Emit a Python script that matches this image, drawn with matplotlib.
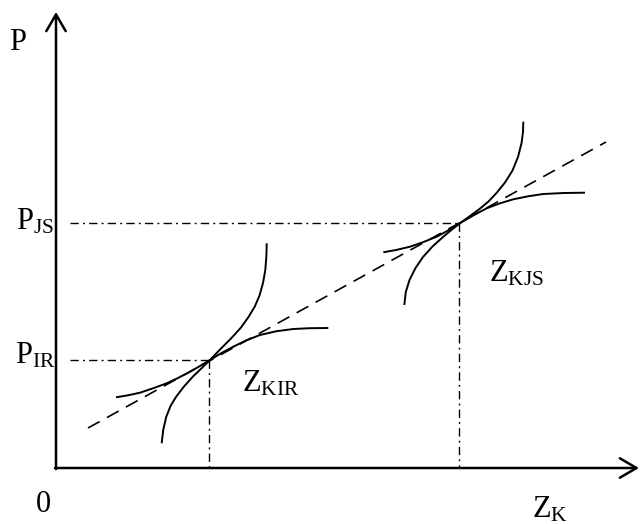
import matplotlib
matplotlib.use('Agg')
import matplotlib.pyplot as plt

plt.rcParams['font.family'] = ['Liberation Serif', 'DejaVu Serif']
plt.rcParams['mathtext.fontset'] = 'custom'
plt.rcParams['mathtext.rm'] = 'Liberation Serif'
plt.rcParams['mathtext.it'] = 'Liberation Serif:italic'

# 图上读出的点 (像素坐标, y 向下)
axis_origin = (56, 468)
y_axis_top = 12
x_axis_right = 639

# 两个切点
p_ir = (209, 360)
p_js = (459, 223)

# 虚线 (切线)
dash_x = [88, 606]
dash_y = [428, 142]

# 切点1附近的两条曲线
steep1_x = [161.7, 163.2, 166.2, 170.5, 176.3, 184, 192.8, 201.3, 210, 220.5, 231.5, 241, 248.5, 254.8, 259.5, 263, 265.3, 266.4, 266.7]
steep1_y = [443.3, 430, 417, 406, 396.5, 386.5, 376.7, 368.5, 360, 349, 338, 327.5, 317, 306.5, 295.5, 283, 270, 256, 243.3]
flat1_x = [116, 128, 140, 153, 166.7, 178, 190, 200, 210, 221.5, 233.3, 246, 260, 276, 293.3, 310, 328.3]
flat1_y = [397.3, 395.3, 392.7, 388.3, 383.3, 378, 371.7, 366, 360, 353, 346.7, 340.5, 335, 331.3, 329, 328.2, 328]

# 切点2附近的两条曲线
steep2_x = [404.3, 405.8, 409.5, 415.5, 423, 432.5, 443, 452, 460.7, 470, 479.5, 488.5, 496.5, 505, 512.5, 518, 521.5, 523, 523.3]
steep2_y = [305, 292, 280, 268, 257, 246.5, 237, 229.5, 222.7, 216, 209, 201.5, 193, 182.5, 170.5, 157, 143.3, 132, 121.7]
flat2_x = [383.3, 396, 410, 423, 436.7, 449, 460.7, 474, 486.7, 500, 513.3, 528, 543.3, 564, 585]
flat2_y = [252.3, 250, 246.7, 242.2, 236.7, 230, 222.7, 215, 208.3, 203.3, 199.3, 196.3, 194, 193, 192.7]

fig = plt.figure(figsize=(6.41, 5.24), dpi=100)
ax = fig.add_axes([0, 0, 1, 1])
ax.set_xlim(0, 641)
ax.set_ylim(524, 0)
ax.axis('off')

# 坐标轴
arrow = dict(arrowstyle='->,head_length=1.2,head_width=0.7', lw=1.8, color='black',
             shrinkA=0, shrinkB=0)
ax.annotate('', xy=(axis_origin[0], y_axis_top), xytext=(axis_origin[0], axis_origin[1] + 1),
            arrowprops=arrow)
ax.annotate('', xy=(x_axis_right, axis_origin[1]), xytext=(axis_origin[0] - 1, axis_origin[1]),
            arrowprops=arrow)

# 点划线
dd = (0, (6, 3, 1.4, 3))
ax.plot([70, p_ir[0]], [p_ir[1], p_ir[1]], color='black', lw=1.0, linestyle=dd)
ax.plot([70, p_js[0]], [p_js[1], p_js[1]], color='black', lw=1.0, linestyle=dd)
ax.plot([p_ir[0], p_ir[0]], [p_ir[1], axis_origin[1]], color='black', lw=1.0, linestyle=dd)
ax.plot([p_js[0], p_js[0]], [p_js[1], axis_origin[1]], color='black', lw=1.0, linestyle=dd)

# 切线
ax.plot(dash_x, dash_y, color='black', lw=1.2, linestyle=(0, (8, 5)))

# 曲线
for cx, cy in [(steep1_x, steep1_y), (flat1_x, flat1_y), (steep2_x, steep2_y), (flat2_x, flat2_y)]:
    ax.plot(cx, cy, color='black', lw=1.4, solid_capstyle='butt', solid_joinstyle='round')

fs = 22
ax.text(9, 50, 'P', fontsize=fs, ha='left', va='baseline')
ax.text(16, 229, r'$\mathrm{P}_{\mathrm{JS}}$', fontsize=fs, ha='left', va='baseline')
ax.text(15, 364, r'$\mathrm{P}_{\mathrm{IR}}$', fontsize=fs, ha='left', va='baseline')
ax.text(242, 391, r'$\mathrm{Z}_{\mathrm{KIR}}$', fontsize=fs, ha='left', va='baseline')
ax.text(489, 281, r'$\mathrm{Z}_{\mathrm{KJS}}$', fontsize=fs, ha='left', va='baseline')
ax.text(532, 517, r'$\mathrm{Z}_{\mathrm{K}}$', fontsize=fs, ha='left', va='baseline')
ax.text(36, 512, '0', fontsize=fs, ha='left', va='baseline')

fig.savefig('out.png', dpi=100)
